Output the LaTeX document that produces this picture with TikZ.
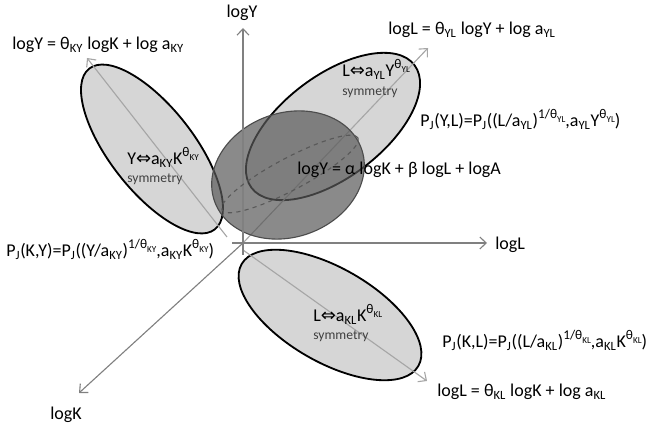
\documentclass[tikz,border=0pt]{standalone}
\usepackage{fontspec}
\setmainfont{Carlito}
\newfontfamily\symfont{DejaVu Sans}
\usepackage{tikz}
\usetikzlibrary{shapes.geometric,arrows.meta,positioning}
\definecolor{planecolor}{gray}{0.84}
\definecolor{cobbcolor}{gray}{0.35}
\definecolor{axiscolor}{gray}{0.5}
\definecolor{planeaxiscolor}{gray}{0.65}
\newcommand{\lsub}[1]{\textsubscript{#1}}
\newcommand{\lsup}[1]{\raisebox{0.45em}{\fontsize{9.5}{10}\selectfont #1}}
\newcommand{\lssub}[1]{\raisebox{-0.25em}{\fontsize{6.5}{7}\selectfont #1}}
\newcommand{\lequiv}{{\symfont ⇔}}

\begin{document}
\begin{tikzpicture}[
    plane/.style={ellipse, draw=black, line width=1.3pt, fill=planecolor, minimum width=5.1cm},
    cobb/.style={ellipse, draw=black!70, line width=0.8pt, fill=cobbcolor, fill opacity=0.7},
    axis/.style={draw=axiscolor, line width=0.8pt, -{Straight Barb[length=1.6mm,width=3mm]}},
    planeaxis/.style={draw=planeaxiscolor, line width=0.8pt, -{Straight Barb[length=1.6mm,width=3mm]}},
    lbl/.style={font=\fontsize{12.8}{15}\selectfont, inner sep=0pt, anchor=base west},
    sym/.style={font=\fontsize{9.7}{11}\selectfont, text=black!75, inner sep=0pt, anchor=base west}
]
\useasboundingbox (0,0) rectangle (16.2,10.75);

% axes end points
\coordinate (O) at (6.075,4.675);
\coordinate (Ystart) at (6.075,4.375);
\coordinate (Ytip) at (6.075,10.05);
\coordinate (Lstart) at (5.8,4.675);
\coordinate (Ltip) at (12.175,4.675);
\coordinate (Ktip) at (1.975,0.925);
\coordinate (KYstart) at (5.675,4.825);
\coordinate (KYtip) at (2.175,9.3);
\coordinate (YLtip) at (10.7,9.55);
\coordinate (KLstart) at (6.075,4.5);
\coordinate (KLtip) at (10.675,1.225);

% pairwise planes
\node[plane, minimum height=2.1cm, rotate=128] (ky) at (3.8,7.025) {};
\node[plane, minimum height=2.55cm, rotate=37] (yl) at (8.325,7.5875) {};
\node[plane, minimum height=2.35cm, rotate=-30] (kl) at (8.25,2.875) {};

\draw[planeaxis] (KYstart) -- (KYtip);
\draw[planeaxis] (O) -- (YLtip);
\draw[planeaxis] (KLstart) -- (KLtip);

% production function
\node[cobb, minimum width=3.9cm, minimum height=3.1cm, rotate=20] (cobb) at (7.2,6.375) {};

\draw[axis] (Ystart) -- (Ytip);
\draw[axis] (Lstart) -- (Ltip);
\draw[axis] (O) -- (Ktip);

\node[ellipse, draw=black!65, dashed, line width=0.8pt, minimum width=3.85cm, minimum height=0.8cm, rotate=28] (cut) at (7.25,6.4) {};

% labels
\node[lbl, anchor=base] (logY) at (6.05,10.3) {logY};
\node[lbl] (logL) at (12.375,4.5) {logL};
\node[lbl, anchor=base] (logK) at (1.65,0.25) {logK};

\node[lbl] (eqKY) at (0.3,9.5) {logY = θ\lsub{KY} logK + log a\lsub{KY}};
\node[lbl] (eqYL) at (9.7,9.875) {logL = θ\lsub{YL} logY + log a\lsub{YL}};
\node[lbl] (eqKL) at (10.925,0.825) {logL = θ\lsub{KL} logK + log a\lsub{KL}};

\node[lbl] (symYL) at (8.55,8.825) {L\lequiv a\lsub{YL}Y\lsup{θ\lssub{YL}}};
\node[sym] (symYLtxt) at (8.55,8.35) {symmetry};
\node[lbl] (symKY) at (3.175,6.625) {Y\lequiv a\lsub{KY}K\lsup{θ\lssub{KY}}};
\node[sym] (symKYtxt) at (3.175,6.175) {symmetry};
\node[lbl] (symKL) at (7.825,2.7) {L\lequiv a\lsub{KL}K\lsup{θ\lssub{KL}}};
\node[sym] (symKLtxt) at (7.825,2.25) {symmetry};

\node[lbl] (cobbeq) at (7.425,6.375) {logY = α logK + β logL + logA};

\node[lbl] (PYL) at (10.5,7.575) {P\lsub{J}(Y,L)=P\lsub{J}((L/a\lsub{YL})\lsup{1/θ\lssub{YL}},a\lsub{YL}Y\lsup{θ\lssub{YL}})};
\node[lbl] (PKY) at (0.15,4.325) {P\lsub{J}(K,Y)=P\lsub{J}((Y/a\lsub{KY})\lsup{1/θ\lssub{KY}},a\lsub{KY}K\lsup{θ\lssub{KY}})};
\node[lbl] (PKL) at (11.05,2.05) {P\lsub{J}(K,L)=P\lsub{J}((L/a\lsub{KL})\lsup{1/θ\lssub{KL}},a\lsub{KL}K\lsup{θ\lssub{KL}})};

\end{tikzpicture}
\end{document}
